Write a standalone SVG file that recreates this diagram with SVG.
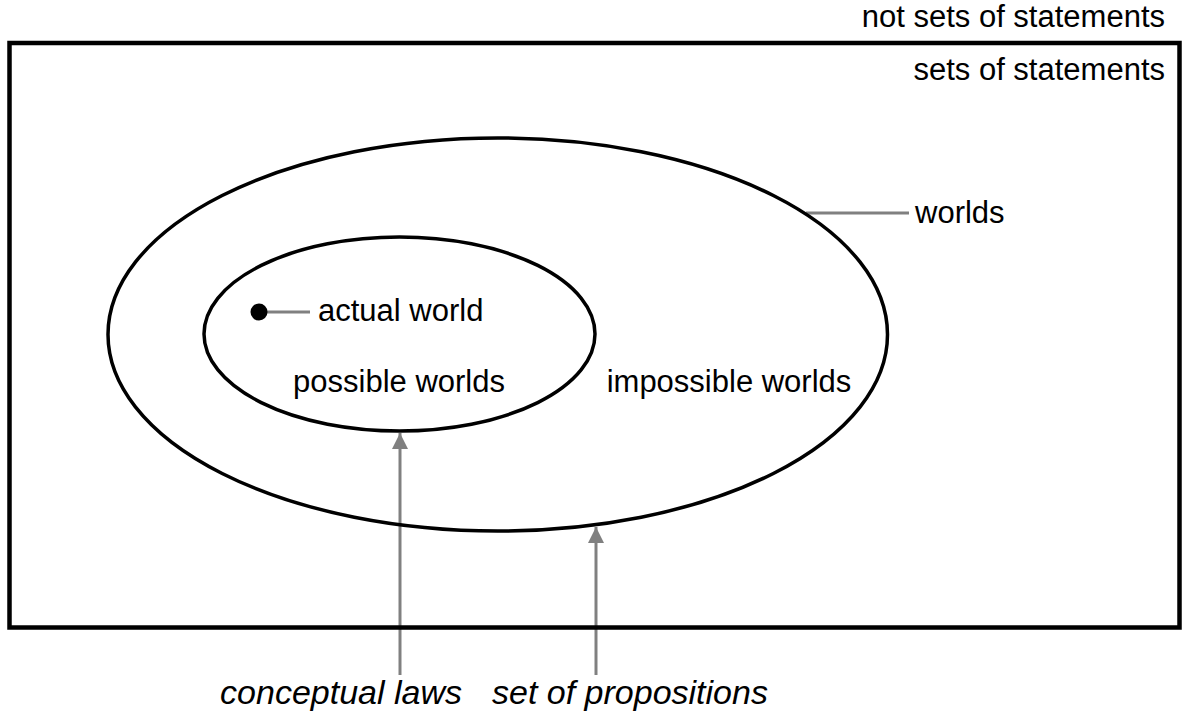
<svg xmlns="http://www.w3.org/2000/svg" width="1182" height="721" viewBox="0 0 1182 721">
<style>
text{font-family:"Liberation Sans",Arial,sans-serif;font-size:31px;fill:#000}
.it{font-style:italic;font-size:34px}
.shape{fill:none;stroke:#000}
.conn{stroke:#808080;stroke-width:3;fill:none}
</style>
<defs>
<marker id="ah" viewBox="0 0 10 10" refX="10" refY="5" markerWidth="16" markerHeight="16" markerUnits="userSpaceOnUse" orient="auto">
<path d="M0,0 L10,5 L0,10 z" fill="#808080"/>
</marker>
</defs>
<rect width="1182" height="721" fill="#fff"/>
<g id="connectors">
<line class="conn" x1="259" y1="312" x2="310" y2="312"/>
<line class="conn" x1="806" y1="213" x2="909" y2="213"/>
<line class="conn" x1="400" y1="675" x2="400" y2="433" marker-end="url(#ah)"/>
<line class="conn" x1="596" y1="675" x2="596" y2="527" marker-end="url(#ah)"/>
</g>
<g id="not-sets">
<text x="1165" y="27" text-anchor="end">not sets of statements</text>
</g>
<g id="sets">
<rect class="shape" x="9.5" y="43" width="1170" height="584.5" stroke-width="4.5"/>
<text x="1165" y="80" text-anchor="end">sets of statements</text>
</g>
<g id="worlds">
<ellipse class="shape" cx="497.75" cy="334.5" rx="389.75" ry="196.5" stroke-width="3.5"/>
<text x="915" y="223">worlds</text>
<text x="729" y="392" text-anchor="middle">impossible worlds</text>
</g>
<g id="possible-worlds">
<ellipse class="shape" cx="399.5" cy="334" rx="195.5" ry="97" stroke-width="3.5"/>
<text x="399" y="392" text-anchor="middle">possible worlds</text>
</g>
<g id="actual-world">
<circle cx="259" cy="312" r="8.5" fill="#000"/>
<text x="318" y="321">actual world</text>
</g>
<g id="label-conceptual">
<text class="it" x="462" y="704" text-anchor="end">conceptual laws</text>
</g>
<g id="label-propositions">
<text class="it" x="492" y="704">set of propositions</text>
</g>
</svg>
